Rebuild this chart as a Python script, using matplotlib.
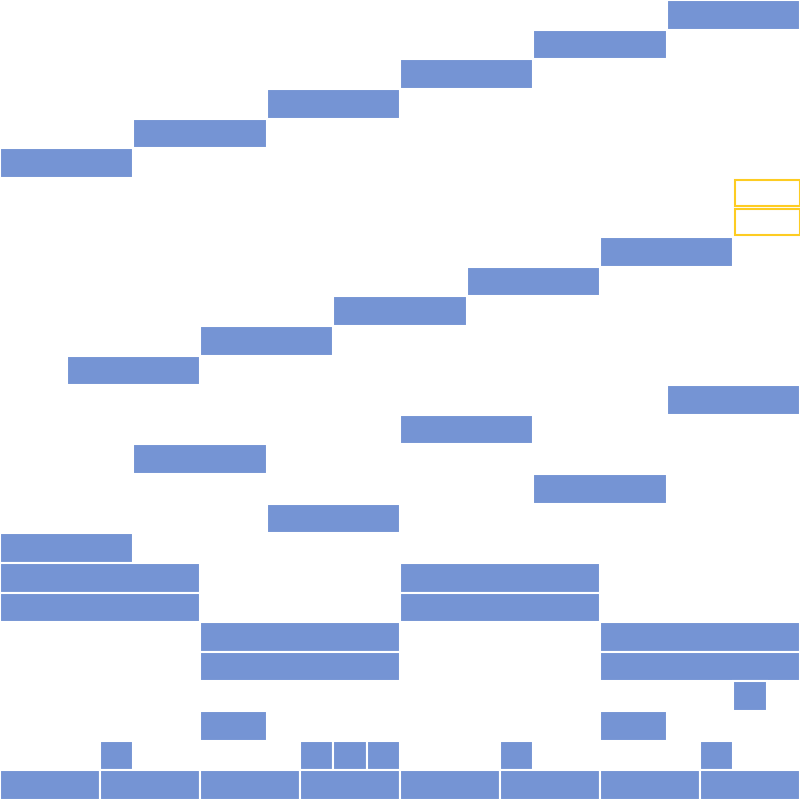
import matplotlib
matplotlib.use("Agg")
import matplotlib.pyplot as plt

# each row: list of (start, length) segments, top row first, x in units of 1/24 of the width
rows = [
    [(20, 4)],
    [(16, 4)],
    [(12, 4)],
    [(8, 4)],
    [(4, 4)],
    [(0, 4)],
    [(22, 2)],
    [(22, 2)],
    [(18, 4)],
    [(14, 4)],
    [(10, 4)],
    [(6, 4)],
    [(2, 4)],
    [(20, 4)],
    [(12, 4)],
    [(4, 4)],
    [(16, 4)],
    [(8, 4)],
    [(0, 4)],
    [(0, 6), (12, 6)],
    [(0, 6), (12, 6)],
    [(6, 6), (18, 6)],
    [(6, 6), (18, 6)],
    [(22, 1)],
    [(6, 2), (18, 2)],
    [(3, 1), (9, 1), (10, 1), (11, 1), (15, 1), (21, 1)],
    [(0, 3), (3, 3), (6, 3), (9, 3), (12, 3), (15, 3), (18, 3), (21, 3)],
]
# rows drawn as empty outlines
outlined_rows = [6, 7]

blue = "#7594d4"
yellow = "#fdcc22"

fig = plt.figure(figsize=(8, 8), dpi=100)
ax = fig.add_axes([0, 0, 1, 1])

for i, segs in enumerate(rows):
    starts = [s for s, w in segs]
    widths = [w for s, w in segs]
    if i in outlined_rows:
        ax.barh(i, [w - 0.05 for w in widths], left=[s + 0.05 for s in starts],
                height=0.88, color="white", edgecolor=yellow, linewidth=1.5)
    else:
        ax.barh(i, widths, left=starts, height=1.0, color=blue,
                edgecolor="white", linewidth=1.5)

ax.set_xlim(0, 24)
ax.set_ylim(len(rows) - 0.5, -0.5)
ax.axis("off")

fig.savefig("out.png", dpi=100)
